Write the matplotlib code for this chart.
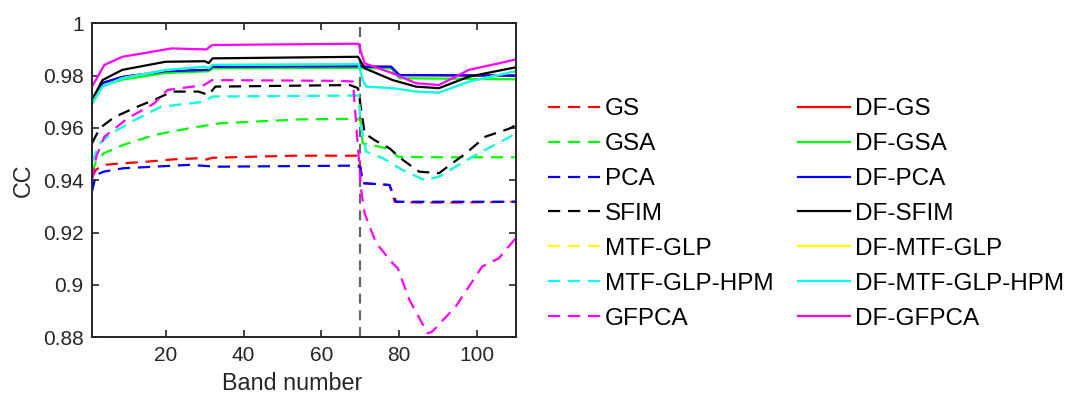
import matplotlib
matplotlib.use('Agg')
import matplotlib.pyplot as plt

plt.rcParams['font.family'] = ['Liberation Sans', 'DejaVu Sans']

# breakpoints (band number, CC)
gs_x = [1, 2, 4, 9, 15, 22, 28, 30, 32, 53, 69, 70, 70.6, 77.5, 78.8, 85, 95, 110]
gs_y = [0.941, 0.944, 0.9459, 0.9465, 0.9471, 0.948, 0.9484, 0.9478, 0.9486, 0.9494, 0.9494, 0.945, 0.9389, 0.9382, 0.9318, 0.9315, 0.9315, 0.9318]

gsa_x = [1, 2, 4, 9, 17, 26, 34, 55, 69, 70, 70.6, 75, 78, 79.6, 90, 110]
gsa_y = [0.9428, 0.947, 0.9503, 0.9535, 0.9573, 0.9599, 0.9618, 0.9633, 0.9635, 0.963, 0.9541, 0.9528, 0.9516, 0.949, 0.9488, 0.9488]

pca_x = [1, 2, 4, 9, 17, 26, 30, 33, 69, 70, 70.6, 77.5, 79.2, 90, 110]
pca_y = [0.9357, 0.942, 0.9433, 0.9446, 0.9452, 0.9459, 0.9455, 0.9452, 0.9456, 0.945, 0.9389, 0.9382, 0.9318, 0.9318, 0.9318]

sfim_x = [1, 3, 6.7, 12.3, 17.4, 21.6, 28.4, 31, 32.7, 67.3, 69.4, 71.1, 73.6, 77.5, 80.9, 85.1, 90.2, 97.1, 102.2, 108.6, 110]
sfim_y = [0.9541, 0.9599, 0.9641, 0.9679, 0.971, 0.9739, 0.9739, 0.9726, 0.9758, 0.9764, 0.9752, 0.958, 0.9554, 0.9522, 0.9478, 0.9433, 0.9427, 0.9503, 0.9567, 0.9599, 0.9612]

hpm_x = [1, 3, 6, 12, 18.7, 29.8, 31.9, 69.5, 70.2, 71.5, 75.8, 80.9, 86.5, 90.2, 98.8, 108.6, 110]
hpm_y = [0.947, 0.9541, 0.958, 0.963, 0.9681, 0.97, 0.972, 0.9724, 0.9605, 0.9509, 0.9484, 0.9439, 0.9401, 0.9414, 0.949, 0.9567, 0.9585]

# MTF-GLP lies under MTF-GLP-HPM in the figure
mtf_x = hpm_x
mtf_y = hpm_y

gfpca_x = [1, 2.1, 4.2, 10.2, 17, 20.4, 29.8, 31.9, 65, 68.1, 70.2, 71.1, 72.4, 74.1, 78.3, 79.6, 82.6, 87.3, 88.5, 94.5, 101.3, 105.6, 110]
gfpca_y = [0.940, 0.949, 0.9567, 0.9637, 0.9694, 0.9745, 0.9764, 0.9783, 0.978, 0.9777, 0.9363, 0.9274, 0.9223, 0.9159, 0.9083, 0.9064, 0.8943, 0.8815, 0.8822, 0.8917, 0.907, 0.9102, 0.918]

df_pca_x = [1, 3.7, 8.8, 20, 31, 32, 69.5, 70.5, 77.9, 80, 110]
df_pca_y = [0.970, 0.9772, 0.9795, 0.9817, 0.9822, 0.9834, 0.9836, 0.9834, 0.9834, 0.9802, 0.980]

# DF-GS lies under DF-PCA in the figure
df_gs_x = df_pca_x
df_gs_y = df_pca_y

df_gsa_x = [1, 3.7, 8.8, 20, 31, 32, 69.5, 70.5, 77.9, 80, 110]
df_gsa_y = [0.969, 0.976, 0.9785, 0.981, 0.9817, 0.9828, 0.983, 0.9828, 0.9828, 0.979, 0.9786]

df_sfim_x = [1, 3.7, 8.8, 19.9, 30, 31, 32, 69.4, 71.1, 78.3, 84.3, 90.2, 97.9, 110]
df_sfim_y = [0.9707, 0.9783, 0.9822, 0.9853, 0.9855, 0.9848, 0.9866, 0.9872, 0.9828, 0.9783, 0.9758, 0.9752, 0.9796, 0.9832]

df_hpm_x = [1, 3.7, 8.8, 20, 30, 31, 32, 69.5, 70.6, 71.5, 78.3, 84.3, 90.2, 97.9, 110]
df_hpm_y = [0.9694, 0.9758, 0.979, 0.9822, 0.9834, 0.9828, 0.9841, 0.9844, 0.9783, 0.9758, 0.9752, 0.9739, 0.9735, 0.9777, 0.9817]

# DF-MTF-GLP lies under DF-MTF-GLP-HPM in the figure
df_mtf_x = df_hpm_x
df_mtf_y = df_hpm_y

df_gfpca_x = [1, 4.2, 8.8, 21.5, 30.4, 31.9, 69.5, 71.1, 78.3, 84.3, 90.2, 97.9, 105.6, 110]
df_gfpca_y = [0.9758, 0.9841, 0.9872, 0.9904, 0.990, 0.9917, 0.9922, 0.9847, 0.9809, 0.9771, 0.9764, 0.9822, 0.9847, 0.9862]

split_band = 70

y_ticks = [0.88, 0.90, 0.92, 0.94, 0.96, 0.98, 1.00]
y_tick_labels = ['0.88', '0.9', '0.92', '0.94', '0.96', '0.98', '1']
x_ticks = [20, 40, 60, 80, 100]

series = [
    ('GS', gs_x, gs_y, '#ff0000', '--'),
    ('GSA', gsa_x, gsa_y, '#00ff00', '--'),
    ('PCA', pca_x, pca_y, '#0000ff', '--'),
    ('SFIM', sfim_x, sfim_y, '#000000', '--'),
    ('MTF-GLP', mtf_x, mtf_y, '#ffff00', '--'),
    ('MTF-GLP-HPM', hpm_x, hpm_y, '#00ffff', '--'),
    ('GFPCA', gfpca_x, gfpca_y, '#ff00ff', '--'),
    ('DF-GS', df_gs_x, df_gs_y, '#ff0000', '-'),
    ('DF-GSA', df_gsa_x, df_gsa_y, '#00ff00', '-'),
    ('DF-PCA', df_pca_x, df_pca_y, '#0000ff', '-'),
    ('DF-SFIM', df_sfim_x, df_sfim_y, '#000000', '-'),
    ('DF-MTF-GLP', df_mtf_x, df_mtf_y, '#ffff00', '-'),
    ('DF-MTF-GLP-HPM', df_hpm_x, df_hpm_y, '#00ffff', '-'),
    ('DF-GFPCA', df_gfpca_x, df_gfpca_y, '#ff00ff', '-'),
]

fig = plt.figure(figsize=(10.72, 4.01), dpi=100)
ax = fig.add_axes([0.0858, 0.1589, 0.3955, 0.783])

handles = []
for label, xs, ys, color, style in series:
    if style == '--':
        line, = ax.plot(xs, ys, color=color, linewidth=1.6, linestyle=(0, (5.5, 3.5)), label=label)
    else:
        line, = ax.plot(xs, ys, color=color, linewidth=1.6, label=label)
    handles.append(line)

ax.axvline(split_band, color='#666666', linewidth=1.6, linestyle=(0, (4.5, 3)), zorder=0)

ax.set_xlim(1, 110)
ax.set_ylim(0.88, 1.0)
ax.set_xticks(x_ticks)
ax.set_yticks(y_ticks)
ax.set_yticklabels(y_tick_labels)
ax.tick_params(direction='in', top=True, right=True, length=5, width=1.2,
               labelsize=15, colors='#262626', pad=6)
for sp in ax.spines.values():
    sp.set_linewidth(1.4)
    sp.set_color('#262626')

ax.set_xlabel('Band number', fontsize=16.8, color='#262626', labelpad=5)
ax.set_ylabel('CC', fontsize=16.8, color='#262626', labelpad=6)
ax.xaxis.label.set_x(0.472)

fig.legend(handles=handles, loc='upper left', bbox_to_anchor=(0.4907, 0.8095),
           ncol=2, frameon=False, fontsize=17.5, handlelength=2.15,
           handletextpad=0.2, columnspacing=1.0, labelspacing=0.53)

fig.savefig('out.png', dpi=100)
